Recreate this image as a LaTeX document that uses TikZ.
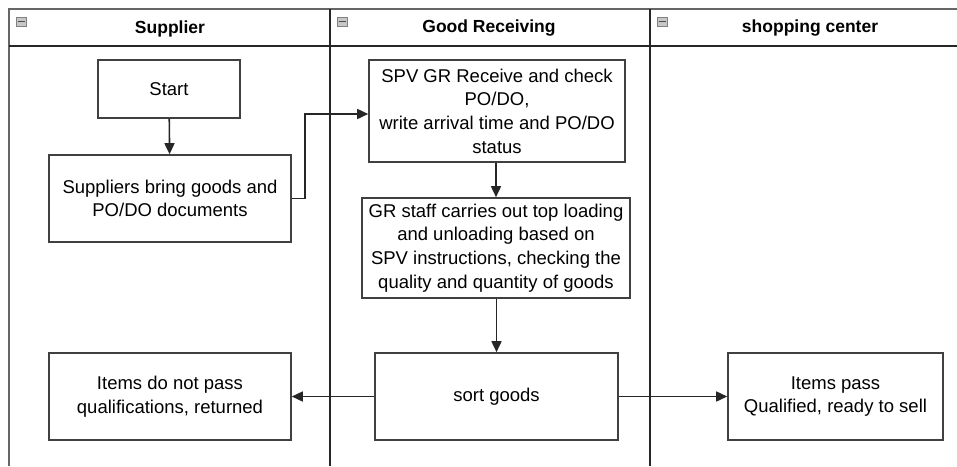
\documentclass[tikz,border=0pt]{standalone}
\usepackage{fontspec}
\setmainfont{Liberation Sans}
\usetikzlibrary{arrows.meta}
\begin{document}
\begin{tikzpicture}[x=1pt,y=-1pt,
  procbox/.style={draw=black!75,line width=1.6pt,fill=white,align=center,
    inner sep=0pt,font=\fontsize{18.5}{23.7}\selectfont},
  lanehead/.style={font=\bfseries\fontsize{17.5}{20}\selectfont},
  lane/.style={draw=black!85,line width=1.8pt},
  flow/.style={draw=black!85,line width=1.6pt,-{Triangle[length=11pt,width=10pt]}},
  collapse/.style={draw=black!50,fill=black!22,minimum width=10pt,minimum height=9pt,inner sep=0pt,line width=0.9pt}
]
\useasboundingbox (0,0) rectangle (957,466);
\fill[white] (0,0) rectangle (957,466);

% pool frame and lane dividers
\draw[lane,draw=black!60] (9,466) -- (9,9) -- (957,9);
\draw[lane] (9,46) -- (957,46);
\draw[lane] (330,9) -- (330,466);
\draw[lane] (650,9) -- (650,466);

% lane headers
\node[lanehead] (hsup) at (170,28.5) {Supplier};
\node[lanehead] (hgr) at (489,28.5) {Good Receiving};
\node[lanehead] (hshop) at (810,28.5) {shopping center};
\foreach \x/\n in {21.5/c1,342.5/c2,662.5/c3}{
  \node[collapse] (\n) at (\x,21.5) {};
  \draw[black!70,line width=1.3pt] ([xshift=2pt]\n.west) -- ([xshift=-2pt]\n.east);
}

% process steps
\node[procbox,minimum width=142pt,minimum height=58pt] (start) at (169,89) {Start};
\node[procbox,minimum width=242pt,minimum height=87pt] (bring) at (170,198.5)
  {Suppliers bring goods and\\PO/DO documents};
\node[procbox,minimum width=256pt,minimum height=102pt] (check) at (497,111)
  {SPV GR Receive and check\\PO/DO,\\write arrival time and PO/DO\\status};
\node[procbox,minimum width=268pt,minimum height=100pt] (load) at (496,248)
  {GR staff carries out top loading\\and unloading based on\\SPV instructions, checking the\\quality and quantity of goods};
\node[procbox,minimum width=243pt,minimum height=87pt] (sort) at (496.5,396.5) {sort goods};
\node[procbox,minimum width=242pt,minimum height=87pt] (fail) at (170,396.5)
  {Items do not pass\\qualifications, returned};
\node[procbox,minimum width=215pt,minimum height=87pt] (pass) at (835.5,396.5)
  {Items pass\\Qualified, ready to sell};

% connectors
\coordinate (bend) at (305,199);
\draw[flow] (start) -- (bring);
\draw[flow] (bring.east) -- (bring.east -| bend) |- ([yshift=-3pt]check.west);
\draw[flow] (check.south -| load.north) -- (load.north);
\draw[flow] (load.south -| sort.north) -- (sort.north);
\draw[flow] (sort) -- (fail);
\draw[flow] (sort) -- (pass);
\end{tikzpicture}
\end{document}
